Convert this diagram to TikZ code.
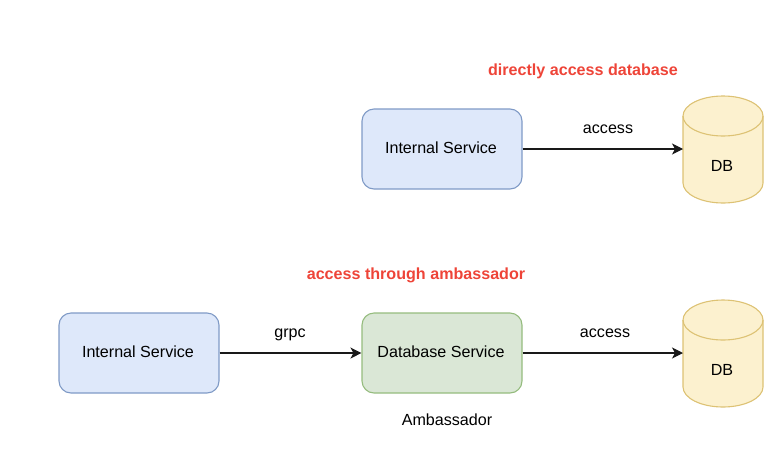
\documentclass[tikz,border=0pt]{standalone}
\usepackage{fontspec}
\setmainfont{Liberation Sans}
\usetikzlibrary{arrows.meta}
\definecolor{bluef}{HTML}{DEE8FA}
\definecolor{blued}{HTML}{7F9AC6}
\definecolor{greenf}{HTML}{DAE7D6}
\definecolor{greend}{HTML}{95BC7E}
\definecolor{yelf}{HTML}{FCF1CF}
\definecolor{yeld}{HTML}{DDC274}
\definecolor{redt}{HTML}{EE4438}
\tikzset{x=1pt,y=-1pt,
 svc/.style={draw=blued,fill=bluef,rounded corners=12pt,minimum width=160pt,minimum height=80pt,line width=1.1pt,inner sep=0pt,text height=12pt,text depth=3pt,font=\fontsize{16.1}{18}\selectfont},
 amb/.style={svc,draw=greend,fill=greenf},
 lbl/.style={font=\fontsize{16.1}{18}\selectfont,inner sep=0pt,anchor=base},
 ttl/.style={font=\fontsize{16.1}{18}\selectfont\bfseries,text=redt,inner sep=0pt,anchor=base},
 conn/.style={draw=black!90,line width=1.1pt,-{Stealth[length=11pt,width=11pt,inset=3pt]}},
 dbshape/.style={draw=yeld,fill=yelf,line width=1.1pt}}
\newcommand{\dbcyl}[3]{%
 \draw[dbshape] (#1-40,#2-33) arc[x radius=40,y radius=-20,start angle=180,end angle=0] -- (#1+40,#2+34) arc[x radius=40,y radius=-20,start angle=0,end angle=-180] -- cycle;
 \draw[dbshape,fill=none] (#1-40,#2-33) arc[x radius=40,y radius=-20,start angle=180,end angle=360];
 \node[lbl] (#3) at (#1-1,#2+22) {DB};
 \coordinate (#3w) at (#1-40,#2);
}
\begin{document}
\begin{tikzpicture}
\useasboundingbox (0,0) rectangle (778,464);
\node[svc] (s1) at (442,149) {\hspace{-2pt}Internal Service};
\node[svc] (s2) at (139,353) {\hspace{-2pt}Internal Service};
\node[amb] (a) at (442,353) {\hspace{-2pt}Database Service};
\dbcyl{723}{149}{d1}
\dbcyl{723}{353}{d2}
\draw[conn] (s1.east) -- (d1w);
\draw[conn] (s2.east) -- (a.west);
\draw[conn] (a.east) -- (d2w);
\node[ttl] (t1) at (583,75) {directly access database};
\node[ttl] (t2) at (416,279) {access through ambassador};
\node[lbl] (l1) at (608,133) {access};
\node[lbl] (l2) at (290,337) {grpc};
\node[lbl] (l3) at (605,337) {access};
\node[lbl] (l4) at (447,425) {Ambassador};
\end{tikzpicture}
\end{document}
